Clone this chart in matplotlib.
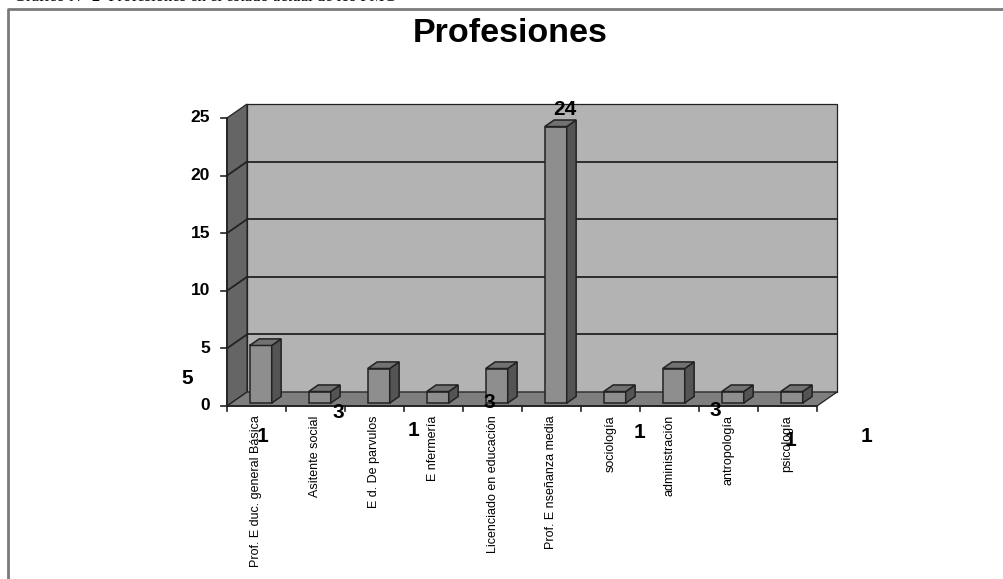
import matplotlib
matplotlib.use("Agg")
import matplotlib.pyplot as plt
from matplotlib.patches import Polygon
from matplotlib.lines import Line2D

plt.rcParams['font.family'] = ['Liberation Sans', 'DejaVu Sans']

categories = ["Prof. E duc. general Básica", "Asitente social", "E d. De parvulos",
              "E nfermería", "Licenciado en educación", "Prof. E nseñanza media",
              "sociología", "administración", "antropología", "psicología"]
values = [5, 1, 3, 1, 3, 24, 1, 3, 1, 1]
yticks = [0, 5, 10, 15, 20, 25]
title = "Profesiones"
caption = "Gráfico N° 2  Profesiones en el estado actual de los PMG"

# layout of the loose data labels (figure pixels, as they sit in the original)
LABEL_X0, LABEL_DX = 187, 75.5
LABEL_Y = [378, 437, 413, 430, 403, 110, 433, 410, 440, 437]

W, H = 1004, 579
fig = plt.figure(figsize=(W / 100, H / 100), dpi=100)

# front axis: x 0..10 -> px 227..817, y 0..25 -> px 406..118
ax = fig.add_axes([227 / W, (H - 406) / H, 590 / W, 288 / H])
ax.set_xlim(0, 10)
ax.set_ylim(0, 25)
ax.axis('off')

DX, DY = 0.34, 1.215  # depth offset in data units
n = len(categories)
ymax = yticks[-1]


def proj(x, y, d):
    return (x + d * DX, y + d * DY)


def poly(pts, fc, ec='#222222', lw=0.9, z=1):
    p = Polygon(pts, closed=True, facecolor=fc, edgecolor=ec, lw=lw,
                zorder=z, clip_on=False)
    ax.add_patch(p)


# walls and floor
poly([proj(0, 0, 1), proj(n, 0, 1), proj(n, ymax, 1), proj(0, ymax, 1)], '#b3b3b3', z=1)
poly([proj(0, 0, 0), proj(0, ymax, 0), proj(0, ymax, 1), proj(0, 0, 1)], '#656565', z=1)
poly([proj(0, 0, 0), proj(n, 0, 0), proj(n, 0, 1), proj(0, 0, 1)], '#7e7e7e', z=2)

# gridlines on back and side wall
for v in yticks[1:-1]:
    a, b = proj(0, v, 1), proj(n, v, 1)
    ax.plot([a[0], b[0]], [a[1], b[1]], color='#222222', lw=1.3, zorder=1.5, clip_on=False)
    c = proj(0, v, 0)
    ax.plot([c[0], a[0]], [c[1], a[1]], color='#222222', lw=1.3, zorder=1.5, clip_on=False)

# bars
bw, f0, f1 = 0.373, 0.21, 0.68
for i, v in enumerate(values):
    xa, xb = i + 0.5 - bw / 2, i + 0.5 + bw / 2
    poly([proj(xa, 0, f0), proj(xb, 0, f0), proj(xb, v, f0), proj(xa, v, f0)], '#8e8e8e', lw=1.1, z=5)
    poly([proj(xb, 0, f0), proj(xb, 0, f1), proj(xb, v, f1), proj(xb, v, f0)], '#545454', lw=1.1, z=5)
    poly([proj(xa, v, f0), proj(xb, v, f0), proj(xb, v, f1), proj(xa, v, f1)], '#727272', lw=1.1, z=5)

# axes lines and ticks
ax.plot([0, n], [0, 0], color='#222222', lw=1.3, zorder=6, clip_on=False)
ax.plot([0, 0], [0, ymax], color='#222222', lw=1.3, zorder=6, clip_on=False)
for v in yticks:
    ax.plot([-0.1, 0], [v, v], color='#222222', lw=1.2, zorder=6, clip_on=False)
    ax.text(-0.29, v, str(v), ha='right', va='center', fontsize=12.5,
            fontweight='bold', zorder=7)
for i in range(n + 1):
    ax.plot([i, i], [0, -0.4], color='#222222', lw=1.2, zorder=6, clip_on=False)
for i, lab in enumerate(categories):
    ax.text(i + 0.5, -0.8, lab, rotation=90, ha='center', va='top', fontsize=9, zorder=7)

# loose data labels
for i, v in enumerate(values):
    fig.text((LABEL_X0 + i * LABEL_DX) / W, 1 - LABEL_Y[i] / H, str(v),
             ha='center', va='center', fontsize=15, fontweight='bold', zorder=8)

# title, frame and cut caption
fig.text(510 / W, 1 - 34 / H, title, ha='center', va='center', fontsize=24.5, fontweight='bold')
fig.add_artist(Line2D([8 / W, 8 / W, 1], [0, 1 - 9 / H, 1 - 9 / H], color='#7a7a7a',
                      lw=2, transform=fig.transFigure))
fig.text(14 / W, 1 - 1 / H, caption, ha='left', va='baseline', fontsize=12,
         family=['Liberation Serif', 'DejaVu Serif'])

fig.savefig('out.png', dpi=100)
